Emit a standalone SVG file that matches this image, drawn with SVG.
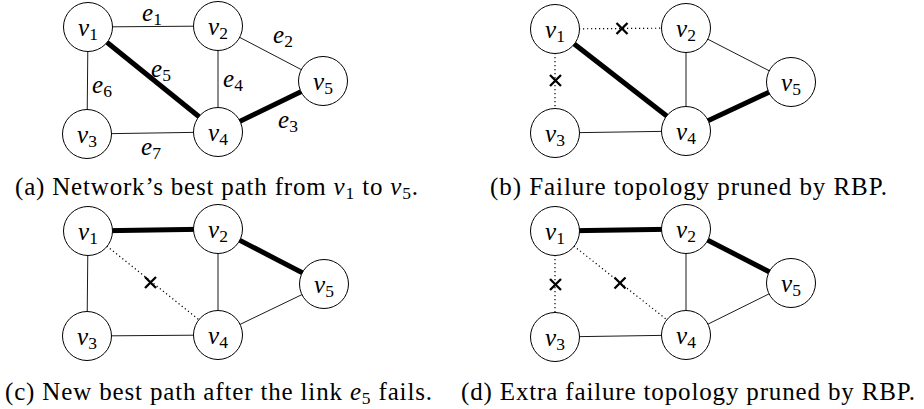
<svg xmlns="http://www.w3.org/2000/svg" width="924" height="409" viewBox="0 0 924 409" font-family="Liberation Serif">
<style>
  .lbl { font-size: 25px; text-anchor: middle; }
  .it { font-style: italic; }
  .sub { font-size: 17.5px; font-style: normal; }
  .cap { font-size: 25px; }
  .node { fill: #fff; stroke: #000; stroke-width: 1; }
  .thin { stroke: #000; stroke-width: 0.9; fill: none; }
  .thick { stroke: #000; stroke-width: 5; fill: none; }
  .dot { stroke: #000; stroke-width: 1.2; stroke-dasharray: 1.2 2.8; fill: none; }
  .x { stroke: #000; stroke-width: 2.3; fill: none; }
</style>
<rect width="924" height="409" fill="#fff"/>

<!-- Panel (a) -->
<g id="panel-a">
  <g id="a-connectors">
    <line class="thin" x1="88" y1="27" x2="218" y2="26"/>
    <line class="thin" x1="218" y1="26" x2="323" y2="81"/>
    <line class="thick" x1="88" y1="27" x2="218" y2="132"/>
    <line class="thin" x1="218" y1="26" x2="218" y2="132"/>
    <line class="thin" x1="88" y1="27" x2="87" y2="134"/>
    <line class="thick" x1="218" y1="132" x2="323" y2="81"/>
    <line class="thin" x1="87" y1="134" x2="218" y2="132"/>
  </g>
  <g id="a-edge-labels">
    <text class="lbl" font-family="Liberation Serif" x="152" y="21"><tspan class="it">e</tspan><tspan class="sub" dy="4">1</tspan></text>
    <text class="lbl" font-family="Liberation Serif" x="283" y="43"><tspan class="it">e</tspan><tspan class="sub" dy="4">2</tspan></text>
    <text class="lbl" font-family="Liberation Serif" x="161" y="77"><tspan class="it">e</tspan><tspan class="sub" dy="4">5</tspan></text>
    <text class="lbl" font-family="Liberation Serif" x="233" y="87"><tspan class="it">e</tspan><tspan class="sub" dy="4">4</tspan></text>
    <text class="lbl" font-family="Liberation Serif" x="102" y="93"><tspan class="it">e</tspan><tspan class="sub" dy="4">6</tspan></text>
    <text class="lbl" font-family="Liberation Serif" x="288" y="128"><tspan class="it">e</tspan><tspan class="sub" dy="4">3</tspan></text>
    <text class="lbl" font-family="Liberation Serif" x="151" y="155"><tspan class="it">e</tspan><tspan class="sub" dy="4">7</tspan></text>
  </g>
  <g id="a-v1"><circle class="node" cx="88" cy="27" r="24.5"/><text class="lbl" font-family="Liberation Serif" x="88" y="36"><tspan class="it">v</tspan><tspan class="sub" dy="4">1</tspan></text></g>
  <g id="a-v2"><circle class="node" cx="218" cy="26" r="24.5"/><text class="lbl" font-family="Liberation Serif" x="218" y="35"><tspan class="it">v</tspan><tspan class="sub" dy="4">2</tspan></text></g>
  <g id="a-v3"><circle class="node" cx="87" cy="134" r="24.5"/><text class="lbl" font-family="Liberation Serif" x="87" y="143"><tspan class="it">v</tspan><tspan class="sub" dy="4">3</tspan></text></g>
  <g id="a-v4"><circle class="node" cx="218" cy="132" r="24.5"/><text class="lbl" font-family="Liberation Serif" x="218" y="141"><tspan class="it">v</tspan><tspan class="sub" dy="4">4</tspan></text></g>
  <g id="a-v5"><circle class="node" cx="323" cy="81" r="24.5"/><text class="lbl" font-family="Liberation Serif" x="323" y="90"><tspan class="it">v</tspan><tspan class="sub" dy="4">5</tspan></text></g>
  <text class="cap" font-family="Liberation Serif" x="15" y="195" textLength="403">(a) Network’s best path from <tspan class="it">v</tspan><tspan class="sub" dy="4">1</tspan><tspan dy="-4"> to </tspan><tspan class="it">v</tspan><tspan class="sub" dy="4">5</tspan><tspan dy="-4">.</tspan></text>
</g>

<!-- Panel (b) -->
<g id="panel-b">
  <g id="b-connectors">
    <line class="dot" x1="555" y1="29" x2="686" y2="28"/>
    <line class="thin" x1="686" y1="28" x2="791" y2="82"/>
    <line class="thick" x1="555" y1="29" x2="686" y2="131"/>
    <line class="thin" x1="686" y1="28" x2="686" y2="131"/>
    <line class="dot" x1="555" y1="29" x2="555" y2="133"/>
    <line class="thick" x1="686" y1="131" x2="791" y2="82"/>
    <line class="thin" x1="555" y1="133" x2="686" y2="131"/>
    <path class="x" d="M616.5 23 l11 11 M627.5 23 l-11 11"/>
    <path class="x" d="M550 75 l11 11 M561 75 l-11 11"/>
  </g>
  <g id="b-v1"><circle class="node" cx="555" cy="29" r="24.5"/><text class="lbl" font-family="Liberation Serif" x="555" y="38"><tspan class="it">v</tspan><tspan class="sub" dy="4">1</tspan></text></g>
  <g id="b-v2"><circle class="node" cx="686" cy="28" r="24.5"/><text class="lbl" font-family="Liberation Serif" x="686" y="37"><tspan class="it">v</tspan><tspan class="sub" dy="4">2</tspan></text></g>
  <g id="b-v3"><circle class="node" cx="555" cy="133" r="24.5"/><text class="lbl" font-family="Liberation Serif" x="555" y="142"><tspan class="it">v</tspan><tspan class="sub" dy="4">3</tspan></text></g>
  <g id="b-v4"><circle class="node" cx="686" cy="131" r="24.5"/><text class="lbl" font-family="Liberation Serif" x="686" y="140"><tspan class="it">v</tspan><tspan class="sub" dy="4">4</tspan></text></g>
  <g id="b-v5"><circle class="node" cx="791" cy="82" r="24.5"/><text class="lbl" font-family="Liberation Serif" x="791" y="91"><tspan class="it">v</tspan><tspan class="sub" dy="4">5</tspan></text></g>
  <text class="cap" font-family="Liberation Serif" x="490" y="195" textLength="397">(b) Failure topology pruned by RBP.</text>
</g>

<!-- Panel (c) -->
<g id="panel-c">
  <g id="c-connectors">
    <line class="thick" x1="88" y1="231" x2="218" y2="229"/>
    <line class="thick" x1="218" y1="229" x2="324" y2="284"/>
    <line class="dot" x1="88" y1="231" x2="218" y2="335"/>
    <line class="thin" x1="218" y1="229" x2="218" y2="335"/>
    <line class="thin" x1="88" y1="231" x2="87" y2="336"/>
    <line class="thin" x1="218" y1="335" x2="324" y2="284"/>
    <line class="thin" x1="87" y1="336" x2="218" y2="335"/>
    <path class="x" d="M145 277 l11 11 M156 277 l-11 11"/>
  </g>
  <g id="c-v1"><circle class="node" cx="88" cy="231" r="24.5"/><text class="lbl" font-family="Liberation Serif" x="88" y="240"><tspan class="it">v</tspan><tspan class="sub" dy="4">1</tspan></text></g>
  <g id="c-v2"><circle class="node" cx="218" cy="229" r="24.5"/><text class="lbl" font-family="Liberation Serif" x="218" y="238"><tspan class="it">v</tspan><tspan class="sub" dy="4">2</tspan></text></g>
  <g id="c-v3"><circle class="node" cx="87" cy="336" r="24.5"/><text class="lbl" font-family="Liberation Serif" x="87" y="345"><tspan class="it">v</tspan><tspan class="sub" dy="4">3</tspan></text></g>
  <g id="c-v4"><circle class="node" cx="218" cy="335" r="24.5"/><text class="lbl" font-family="Liberation Serif" x="218" y="344"><tspan class="it">v</tspan><tspan class="sub" dy="4">4</tspan></text></g>
  <g id="c-v5"><circle class="node" cx="324" cy="284" r="24.5"/><text class="lbl" font-family="Liberation Serif" x="324" y="293"><tspan class="it">v</tspan><tspan class="sub" dy="4">5</tspan></text></g>
  <text class="cap" font-family="Liberation Serif" x="5" y="400" textLength="427">(c) New best path after the link <tspan class="it">e</tspan><tspan class="sub" dy="4">5</tspan><tspan dy="-4"> fails.</tspan></text>
</g>

<!-- Panel (d) -->
<g id="panel-d">
  <g id="d-connectors">
    <line class="thick" x1="555" y1="231" x2="686" y2="229"/>
    <line class="thick" x1="686" y1="229" x2="791" y2="283"/>
    <line class="dot" x1="555" y1="231" x2="686" y2="335"/>
    <line class="thin" x1="686" y1="229" x2="686" y2="335"/>
    <line class="dot" x1="555" y1="231" x2="555" y2="337"/>
    <line class="thin" x1="686" y1="335" x2="791" y2="283"/>
    <line class="thin" x1="555" y1="337" x2="686" y2="335"/>
    <path class="x" d="M550 279 l11 11 M561 279 l-11 11"/>
    <path class="x" d="M614.5 277.5 l11 11 M625.5 277.5 l-11 11"/>
  </g>
  <g id="d-v1"><circle class="node" cx="555" cy="231" r="24.5"/><text class="lbl" font-family="Liberation Serif" x="555" y="240"><tspan class="it">v</tspan><tspan class="sub" dy="4">1</tspan></text></g>
  <g id="d-v2"><circle class="node" cx="686" cy="229" r="24.5"/><text class="lbl" font-family="Liberation Serif" x="686" y="238"><tspan class="it">v</tspan><tspan class="sub" dy="4">2</tspan></text></g>
  <g id="d-v3"><circle class="node" cx="555" cy="337" r="24.5"/><text class="lbl" font-family="Liberation Serif" x="555" y="346"><tspan class="it">v</tspan><tspan class="sub" dy="4">3</tspan></text></g>
  <g id="d-v4"><circle class="node" cx="686" cy="335" r="24.5"/><text class="lbl" font-family="Liberation Serif" x="686" y="344"><tspan class="it">v</tspan><tspan class="sub" dy="4">4</tspan></text></g>
  <g id="d-v5"><circle class="node" cx="791" cy="283" r="24.5"/><text class="lbl" font-family="Liberation Serif" x="791" y="292"><tspan class="it">v</tspan><tspan class="sub" dy="4">5</tspan></text></g>
  <text class="cap" font-family="Liberation Serif" x="461" y="400" textLength="454">(d) Extra failure topology pruned by RBP.</text>
</g>
</svg>
